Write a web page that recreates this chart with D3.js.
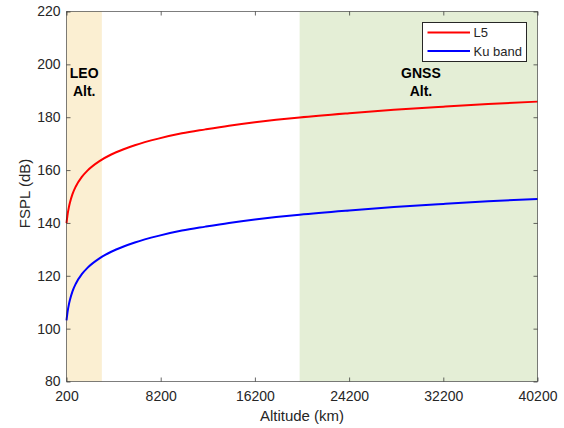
<!DOCTYPE html>
<html>
<head>
<meta charset="utf-8">
<script src="https://cdn.jsdelivr.net/npm/d3@7"></script>
<style>
  body { margin: 0; background: #fff; }
  text { font-family: "Liberation Sans", Arial, sans-serif; fill: #262626; }
</style>
</head>
<body>
<script>
// altitude samples (km) and FSPL readings (dB) off the figure
var altitude = [200, 300, 400, 500, 700, 1000, 1500, 2000, 3000, 4000, 5000, 6000, 8000,
  10000, 12000, 14000, 16200, 18000, 20000, 24200, 28000, 32200, 36000, 40200];
var fsplL5 = [139.9, 143.4, 145.9, 147.8, 150.8, 153.9, 157.4, 159.9, 163.4, 165.9, 167.8, 169.4, 171.9,
  173.9, 175.4, 176.8, 178.1, 179.0, 179.9, 181.5, 182.8, 184.0, 185.0, 185.9];
var fsplKu = [103.1, 106.6, 109.1, 111.0, 114.0, 117.1, 120.6, 123.1, 126.6, 129.1, 131.0, 132.6, 135.1,
  137.1, 138.6, 140.0, 141.3, 142.2, 143.1, 144.7, 146.0, 147.2, 148.2, 149.1];

var xTicks = [200, 8200, 16200, 24200, 32200, 40200];
var yTicks = [80, 100, 120, 140, 160, 180, 200, 220];

// shaded altitude regions
var regions = [
  { name: ["LEO", "Alt."], from: 200, to: 3200, mid: 1700, color: "#fbefd2" },
  { name: ["GNSS", "Alt."], from: 20000, to: 40200, mid: 30300, color: "#e4eed6" }
];

var series = [
  { name: "L5", values: fsplL5, color: "#ff0000" },
  { name: "Ku band", values: fsplKu, color: "#0000ff" }
];

var W = 564, H = 428;
var plotL = 66.5, plotR = 537.5, plotT = 11.5, plotB = 381.5;

var svg = d3.select("body").append("svg")
  .attr("width", W)
  .attr("height", H);

var x = d3.scaleLinear().domain([200, 40200]).range([plotL, plotR]);
var y = d3.scaleLinear().domain([80, 220]).range([plotB, plotT]);

// background bands
svg.selectAll("rect.band").data(regions).enter()
  .append("rect")
  .attr("class", "band")
  .attr("x", function (d) { return x(d.from); })
  .attr("y", plotT)
  .attr("width", function (d) { return x(d.to) - x(d.from); })
  .attr("height", plotB - plotT)
  .style("fill", function (d) { return d.color; });

// band labels
regions.forEach(function (r) {
  r.name.forEach(function (s, i) {
    svg.append("text")
      .attr("x", x(r.mid))
      .attr("y", y(195) + i * 18)
      .attr("text-anchor", "middle")
      .style("font-size", "14px")
      .style("font-weight", "bold")
      .style("fill", "#000")
      .text(s);
  });
});

// curves
var line = d3.line()
  .x(function (d, i) { return x(altitude[i]); })
  .y(function (d) { return y(d); })
  .curve(d3.curveMonotoneX);

svg.selectAll("path.curve").data(series).enter()
  .append("path")
  .attr("class", "curve")
  .attr("d", function (d) { return line(d.values); })
  .style("fill", "none")
  .style("stroke", function (d) { return d.color; })
  .style("stroke-width", 2);

// box axes (MATLAB style, ticks inward on all sides)
var axisCol = "#262626";
var tickLen = 4;

function styleAxis(g) {
  g.select(".domain").remove();
  g.selectAll(".tick line").attr("stroke", axisCol).attr("stroke-opacity", 0.7);
  g.selectAll(".tick text").style("font-size", "14px").style("fill", "#262626")
    .style("font-family", "'Liberation Sans', Arial, sans-serif");
}

svg.append("g")
  .attr("transform", "translate(0," + plotB + ")")
  .call(d3.axisBottom(x).tickValues(xTicks).tickSize(-tickLen).tickPadding(10).tickFormat(d3.format("d")))
  .call(styleAxis);

svg.append("g")
  .attr("transform", "translate(0," + plotT + ")")
  .call(d3.axisTop(x).tickValues(xTicks).tickSize(-tickLen).tickFormat(""))
  .call(styleAxis);

svg.append("g")
  .attr("transform", "translate(" + plotL + ",0)")
  .call(d3.axisLeft(y).tickValues(yTicks).tickSize(-tickLen).tickPadding(6))
  .call(styleAxis);

svg.append("g")
  .attr("transform", "translate(" + plotR + ",0)")
  .call(d3.axisRight(y).tickValues(yTicks).tickSize(-tickLen).tickFormat(""))
  .call(styleAxis);

svg.append("rect")
  .attr("x", plotL)
  .attr("y", plotT)
  .attr("width", plotR - plotL)
  .attr("height", plotB - plotT)
  .style("fill", "none")
  .style("stroke", axisCol)
  .style("stroke-opacity", 0.6)
  .style("stroke-width", 1);

// axis labels
svg.append("text")
  .attr("x", (plotL + plotR) / 2)
  .attr("y", 421)
  .attr("text-anchor", "middle")
  .style("font-size", "15px")
  .text("Altitude (km)");

svg.append("text")
  .attr("transform", "translate(30," + ((plotT + plotB) / 2 - 3) + ") rotate(-90)")
  .attr("text-anchor", "middle")
  .style("font-size", "15px")
  .text("FSPL (dB)");

// legend
var lg = svg.append("g").attr("transform", "translate(422.5,22.5)");
lg.append("rect")
  .attr("width", 104)
  .attr("height", 39)
  .style("fill", "#fff")
  .style("stroke", axisCol)
  .style("stroke-width", 1);

series.forEach(function (s, i) {
  var ly = 10 + i * 18.5;
  lg.append("line")
    .attr("x1", 5).attr("x2", 47.5)
    .attr("y1", ly).attr("y2", ly)
    .style("stroke", s.color)
    .style("stroke-width", 2);
  lg.append("text")
    .attr("x", 51)
    .attr("y", ly)
    .attr("dy", "0.35em")
    .style("font-size", "13px")
    .text(s.name);
});
</script>
</body>
</html>
